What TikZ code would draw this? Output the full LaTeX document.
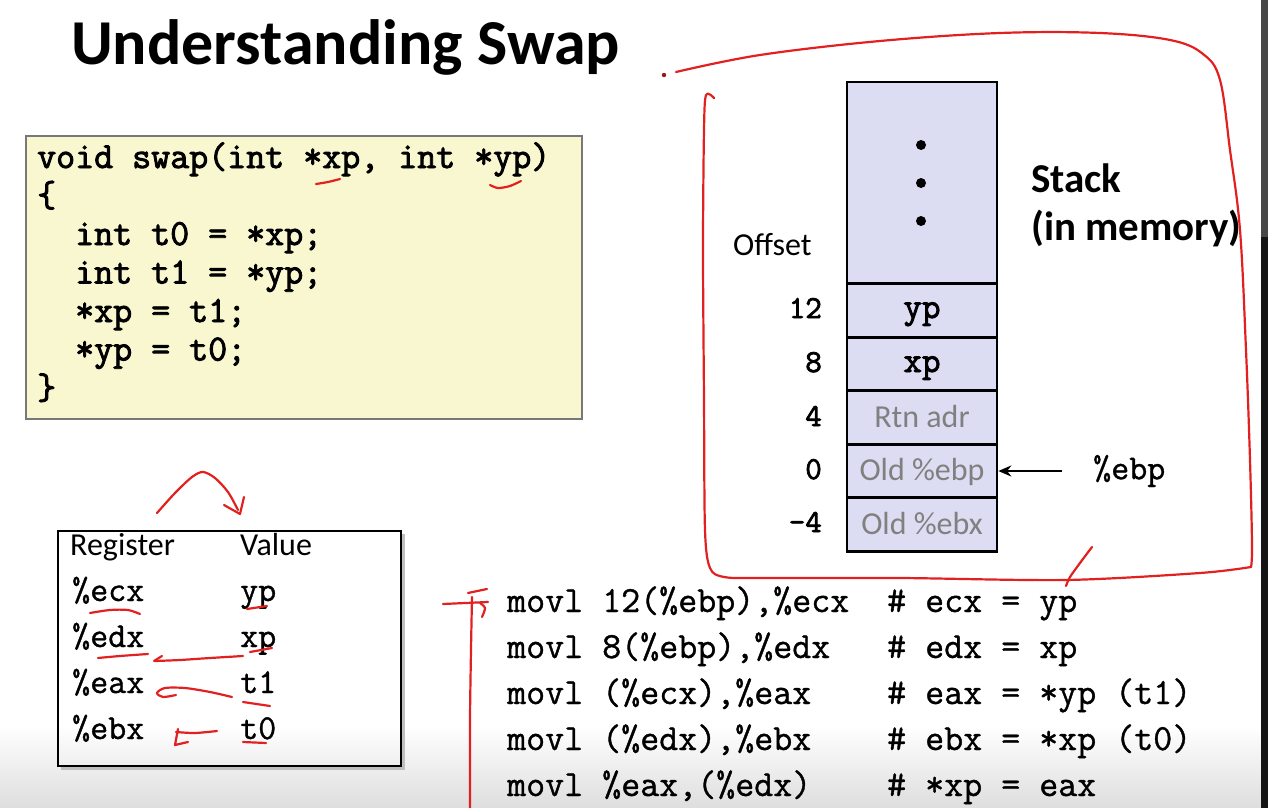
\documentclass[tikz,border=0pt]{standalone}
\usepackage{fontspec}
\setmainfont{Carlito}
\newfontfamily\codefont[FakeBold=2.4]{Latin Modern Mono}
\newfontfamily\asmfont[FakeBold=1.0]{Latin Modern Mono}
\usetikzlibrary{arrows.meta}

\definecolor{codebg}{RGB}{249,247,208}
\definecolor{codeframe}{RGB}{120,120,120}
\definecolor{stackbg}{RGB}{220,220,243}
\definecolor{cellgray}{RGB}{128,128,128}
\definecolor{ink}{RGB}{226,32,32}

\tikzset{
  txt/.style={inner sep=0pt, anchor=base west},
  codeline/.style={txt, font=\codefont\fontsize{36.9bp}{42bp}\selectfont},
  asmline/.style={txt, font=\asmfont\fontsize{36.9bp}{42bp}\selectfont},
  regline/.style={txt, font=\asmfont\fontsize{35bp}{40bp}\selectfont},
  headline/.style={txt, font=\fontsize{32bp}{38bp}\selectfont},
  offnum/.style={inner sep=0pt, anchor=base east, font=\codefont\fontsize{32bp}{36bp}\selectfont},
  cell/.style={draw=black, line width=2.6bp, fill=stackbg, minimum width=150bp, inner sep=0pt},
  ptrcell/.style={cell, minimum height=53.6bp, text height=20bp, text depth=4bp, font=\codefont\fontsize{36bp}{40bp}\selectfont},
  savedcell/.style={cell, minimum height=53.6bp, text height=19bp, text depth=0bp, text=cellgray, font=\fontsize{32bp}{38bp}\selectfont},
  ptr/.style={line width=2.6bp, -{Stealth[length=13bp, width=11bp]}},
  hand/.style={draw=ink, line width=2.2bp, line cap=round, line join=round},
}

\begin{document}
\begin{tikzpicture}[x=1bp, y=-1bp]
\useasboundingbox (0,0) rectangle (1268,808);

% faint shading along the lower edge and the dark strip on the right
\shade[top color=white, bottom color=black!13] (0,725) rectangle (1268,808);
\fill[black!72] (1261,0) rectangle (1268,237);
\fill[black!92] (1261,237) rectangle (1268,808);

% title
\node[txt, font=\bfseries\fontsize{64bp}{74bp}\selectfont] (title) at (71,65) {Understanding Swap};

% C source
\node[draw=codeframe, line width=2bp, fill=codebg, minimum width=556bp, minimum height=283bp, anchor=north west, inner sep=0pt] (codebox) at (25,135) {};
\node[codeline] (c1) at (37,168)   {void swap(int *xp, int *yp)};
\node[codeline] (c2) at (37,206.5) {\{};
\node[codeline] (c3) at (75,245)   {int t0 = *xp;};
\node[codeline] (c4) at (75,283.5) {int t1 = *yp;};
\node[codeline] (c5) at (75,322)   {*xp = t1;};
\node[codeline] (c6) at (75,360.5) {*yp = t0;};
\node[codeline] (c7) at (37,399)   {\}};

% register table
\draw[black!25, line width=3bp] (403,534) -- (403,768) -- (61,768);
\node[draw=black, line width=2.4bp, minimum width=343bp, minimum height=235bp, anchor=north west, inner sep=0pt] (regbox) at (57,530) {};
\node[headline] (hreg) at (70,555) {Register};
\node[headline] (hval) at (240,555) {Value};
\node[regline] (recx) at (72,601) {\%ecx};
\node[regline] (redx) at (72,647) {\%edx};
\node[regline] (reax) at (72,693) {\%eax};
\node[regline] (rebx) at (72,739) {\%ebx};
\node[regline] (vecx) at (240,601) {yp};
\node[regline] (vedx) at (240,647) {xp};
\node[regline] (veax) at (240,693) {t1};
\node[regline] (vebx) at (240,739) {t0};

% stack frame
\node[cell, minimum height=201bp] (ctop) at (922,182.5) {};
\node[ptrcell]   (cyp)  at (922,310)   {yp};
\node[ptrcell]   (cxp)  at (922,364)   {xp};
\node[savedcell] (crtn) at (922,417.5) {Rtn adr};
\node[savedcell] (cebp) at (922,471)   {Old \%ebp};
\node[savedcell] (cebx) at (922,524.5) {Old \%ebx};
\fill (921,145) circle (5bp);
\fill (921,183) circle (5bp);
\fill (921,221) circle (5bp);

\node[txt, font=\fontsize{32bp}{38bp}\selectfont] (offset) at (733,255) {Offset};
\node[offnum] (o12) at (822,318) {12};
\node[offnum] (o8)  at (822,372) {8};
\node[offnum] (o4)  at (822,426) {4};
\node[offnum] (o0)  at (822,479) {0};
\node[offnum] (om4) at (822,532) {-4};

\node[txt, font=\bfseries\fontsize{41bp}{48bp}\selectfont] (stk) at (1031,192) {Stack};
\node[txt, font=\bfseries\fontsize{41bp}{48bp}\selectfont] (stkm) at (1031,240) {(in memory)};

\node[regline, anchor=west] (ebp) at (1093,471) {\%ebp};
\draw[ptr, shorten <=31bp] (ebp.west) -- (ebp.west -| cebp.east);

% assembly
\node[asmline] (a1) at (507,612) {movl 12(\%ebp),\%ecx};
\node[asmline] (a2) at (507,658) {movl 8(\%ebp),\%edx};
\node[asmline] (a3) at (507,704) {movl (\%ecx),\%eax};
\node[asmline] (a4) at (507,750) {movl (\%edx),\%ebx};
\node[asmline] (a5) at (507,796) {movl \%eax,(\%edx)};
\node[asmline] (k1) at (887,612) {\# ecx = yp};
\node[asmline] (k2) at (887,658) {\# edx = xp};
\node[asmline] (k3) at (887,704) {\# eax = *yp (t1)};
\node[asmline] (k4) at (887,750) {\# ebx = *xp (t0)};
\node[asmline] (k5) at (887,796) {\# *xp = eax};

% pen marks
\fill[ink!70!black] (664,75) circle (2.2bp);
\draw[hand] plot[smooth, tension=0.6] coordinates {(676,72) (760,55) (880,41) (1000,33) (1100,33) (1170,40) (1203,54) (1220,80) (1230,150) (1240,230) (1246,350) (1250,460) (1252,545) (1251,567)};
\draw[hand] plot[smooth, tension=0.5] coordinates {(1251,567) (1200,573) (1066,580) (900,578) (760,578) (724,577) (710,568) (705,530) (704,400) (703,250) (704,130) (706,95) (714,98)};
\draw[hand] plot[smooth] coordinates {(1092,547) (1080,563) (1070,577) (1066,586)};

\draw[hand] plot[smooth] coordinates {(472,597) (471,650) (470,720) (470,808)};
\draw[hand] (443,604) -- (488,602);
\draw[hand] (468,593) -- (487,589);
\draw[hand] plot[smooth] coordinates {(480,603) (485,608) (482,617)};

\draw[hand] plot[smooth] coordinates {(316,184) (328,182) (340,179)};
\draw[hand] plot[smooth] coordinates {(490,185) (498,188) (510,186) (521,181)};

\draw[hand] plot[smooth] coordinates {(157,513) (175,493) (192,477) (203,472) (215,478) (228,492) (238,510)};
\draw[hand] (224,505) -- (240,514) -- (244,497);
\draw[hand] plot[smooth] coordinates {(90,613) (110,610) (128,610) (140,614)};
\draw[hand] plot[smooth] coordinates {(98,658) (120,656) (148,654)};
\draw[hand] plot[smooth] coordinates {(243,656) (210,658) (180,660) (155,661)};
\draw[hand] (162,656) -- (154,661);
\draw[hand] (247,609) -- (267,606);
\draw[hand] (250,652) -- (272,648);
\draw[hand] plot[smooth] coordinates {(232,697) (210,692) (185,688) (165,688) (157,693) (163,697) (176,695)};
\draw[hand] (243,702) -- (270,706);
\draw[hand] plot[smooth] coordinates {(217,731) (195,733) (176,732)};
\draw[hand] (178,729) -- (175,745) -- (188,742);
\draw[hand] (243,742) -- (266,743);
\end{tikzpicture}
\end{document}
